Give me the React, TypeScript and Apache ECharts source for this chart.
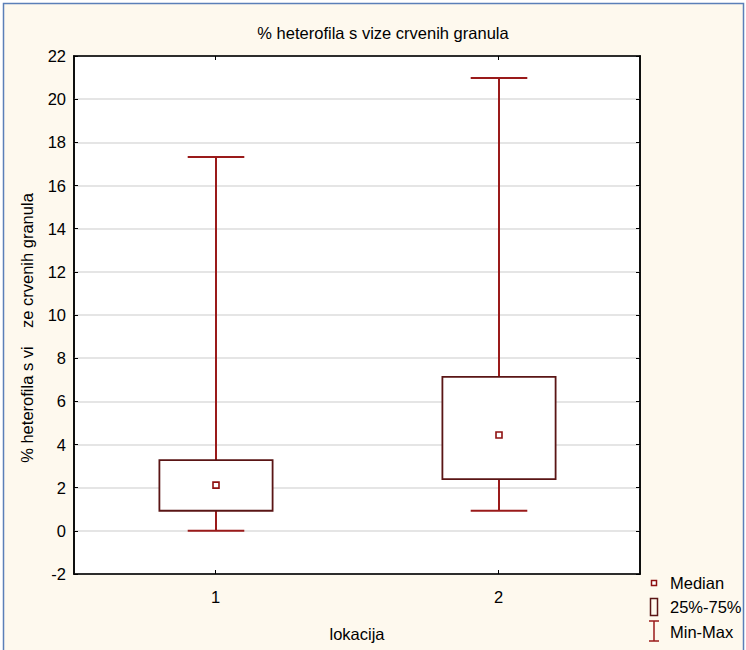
import React, { useEffect, useRef } from "react";
import * as echarts from "echarts";

const categories = ["1", "2"];
const minVals = [0, 0.93];
const q1Vals = [0.93, 2.4];
const medianVals = [2.12, 4.44];
const q3Vals = [3.28, 7.13];
const maxVals = [17.32, 20.98];

const titleText = "% heterofila s vize crvenih granula";
const yName = "% heterofila s vi    ze crvenih granula";
const xName = "lokacija";
const legendLabels = ["Median", "25%-75%", "Min-Max"];

const FONT = "Liberation Sans, Arial, sans-serif";
const FS = 16.5;
const BOX_COLOR = "#5a1515";
const WHISKER_COLOR = "#9a1a1a";
const MEDIAN_COLOR = "#8e1010";

export default function App() {
  const ref = useRef<HTMLDivElement>(null);
  useEffect(() => {
    if (!ref.current) return;
    const chart = echarts.init(ref.current, null, { renderer: "svg" });
    const data = categories.map((_, i) => [i, minVals[i], q1Vals[i], medianVals[i], q3Vals[i], maxVals[i]]);
    const axisCommon = {
      axisLine: { show: true, onZero: false, lineStyle: { color: "#000", width: 1.5 } },
      axisTick: { show: true, inside: true, length: 4, lineStyle: { color: "#000" } },
    };
    const option: any = {
      animation: false,
      backgroundColor: "#ffffff",
      textStyle: { fontFamily: FONT },
      grid: {
        left: 74, top: 56, width: 566, height: 518,
        show: true, backgroundColor: "#ffffff", borderColor: "#000", borderWidth: 1.5,
      },
      xAxis: [
        {
          type: "category", data: categories, position: "bottom",
          ...axisCommon,
          axisTick: { ...axisCommon.axisTick, alignWithLabel: true },
          axisLabel: { fontSize: FS, color: "#000", margin: 14, fontFamily: FONT },
          name: xName, nameLocation: "middle", nameGap: 51,
          nameTextStyle: { fontSize: FS, color: "#000", fontFamily: FONT },
          splitLine: { show: false },
        },
        {
          type: "category", data: categories, position: "top",
          ...axisCommon,
          axisTick: { ...axisCommon.axisTick, alignWithLabel: true },
          axisLabel: { show: false },
          splitLine: { show: false },
        },
      ],
      yAxis: [
        {
          type: "value", min: -2, max: 22, interval: 2, position: "left",
          ...axisCommon,
          axisLabel: { fontSize: FS, color: "#000", margin: 8, fontFamily: FONT },
          splitLine: { show: true, lineStyle: { color: "#dcdcdc", width: 1.5 } },
        },
        {
          type: "value", min: -2, max: 22, interval: 2, position: "right",
          ...axisCommon,
          axisLabel: { show: false },
          splitLine: { show: false },
        },
      ],
      series: [
        {
          type: "custom",
          xAxisIndex: 0, yAxisIndex: 0,
          encode: { x: 0, y: [1, 2, 3, 4, 5] },
          data,
          z: 5,
          renderItem: (params: any, api: any) => {
            const xi = api.value(0);
            const pMin = api.coord([xi, api.value(1)]);
            const pQ1 = api.coord([xi, api.value(2)]);
            const pMed = api.coord([xi, api.value(3)]);
            const pQ3 = api.coord([xi, api.value(4)]);
            const pMax = api.coord([xi, api.value(5)]);
            const band = api.size([1, 0])[0];
            const bw = band * 0.4;
            const cw = band * 0.2;
            const cx = Math.round(pMed[0]);
            const ws = { stroke: WHISKER_COLOR, lineWidth: 2 };
            return {
              type: "group",
              children: [
                { type: "line", shape: { x1: cx, y1: pMax[1], x2: cx, y2: pQ3[1] }, style: ws },
                { type: "line", shape: { x1: cx, y1: pQ1[1], x2: cx, y2: pMin[1] }, style: ws },
                { type: "line", shape: { x1: cx - cw / 2, y1: pMax[1], x2: cx + cw / 2, y2: pMax[1] }, style: ws },
                { type: "line", shape: { x1: cx - cw / 2, y1: pMin[1], x2: cx + cw / 2, y2: pMin[1] }, style: ws },
                {
                  type: "rect",
                  shape: { x: cx - bw / 2, y: pQ3[1], width: bw, height: pQ1[1] - pQ3[1] },
                  style: { fill: "#ffffff", stroke: BOX_COLOR, lineWidth: 1.8 },
                },
                {
                  type: "rect",
                  shape: { x: cx - 3, y: pMed[1] - 3, width: 6, height: 6 },
                  style: { fill: "#ffffff", stroke: MEDIAN_COLOR, lineWidth: 1.6 },
                },
              ],
            };
          },
        },
      ],
      graphic: [
        {
          type: "rect", z: -10, silent: true,
          shape: { x: 3.5, y: 3.5, width: 740, height: 660 },
          style: { fill: "#fef9ee", stroke: "#5b7fb8", lineWidth: 1.5 },
        },
        {
          type: "text", x: 383, y: 33,
          style: { text: titleText, fontSize: FS, fill: "#000", fontFamily: FONT, align: "center", verticalAlign: "middle" },
        },
        {
          type: "text", x: 27, y: 328, rotation: Math.PI / 2,
          style: { text: yName, fontSize: FS, fill: "#000", fontFamily: FONT, align: "center", verticalAlign: "middle" },
        },
        {
          type: "rect", shape: { x: 651.5, y: 580.5, width: 5, height: 5 },
          style: { fill: "#ffffff", stroke: MEDIAN_COLOR, lineWidth: 1.5 },
        },
        {
          type: "text", x: 670, y: 583,
          style: { text: legendLabels[0], fontSize: FS, fill: "#000", fontFamily: FONT, verticalAlign: "middle" },
        },
        {
          type: "rect", shape: { x: 650.5, y: 598.5, width: 7, height: 17 },
          style: { fill: "none", stroke: BOX_COLOR, lineWidth: 1.5 },
        },
        {
          type: "text", x: 670, y: 607,
          style: { text: legendLabels[1], fontSize: FS, fill: "#000", fontFamily: FONT, verticalAlign: "middle" },
        },
        { type: "line", shape: { x1: 649, y1: 621, x2: 659, y2: 621 }, style: { stroke: WHISKER_COLOR, lineWidth: 1.5 } },
        { type: "line", shape: { x1: 654, y1: 621, x2: 654, y2: 641 }, style: { stroke: WHISKER_COLOR, lineWidth: 1.5 } },
        { type: "line", shape: { x1: 649, y1: 641, x2: 659, y2: 641 }, style: { stroke: WHISKER_COLOR, lineWidth: 1.5 } },
        {
          type: "text", x: 670, y: 632,
          style: { text: legendLabels[2], fontSize: FS, fill: "#000", fontFamily: FONT, verticalAlign: "middle" },
        },
      ],
    };
    chart.setOption(option);
    return () => chart.dispose();
  }, []);
  return (
    <div
      ref={ref}
      style={{ position: "absolute", left: 0, top: 0, width: 746, height: 650 }}
    />
  );
}
